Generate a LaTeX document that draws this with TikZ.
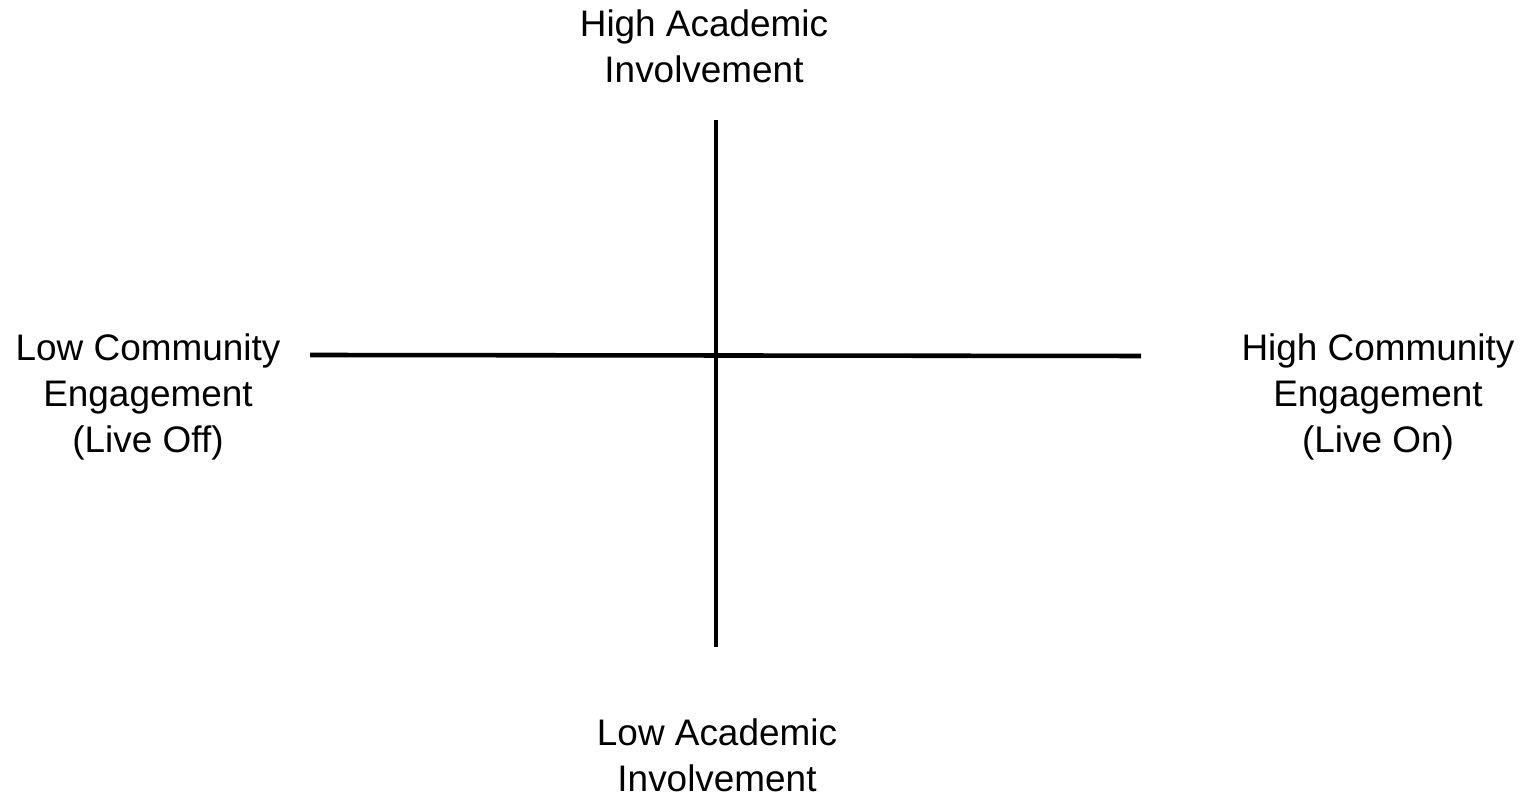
\documentclass[tikz,border=0pt]{standalone}
\usepackage{fontspec}
\setmainfont{Liberation Sans}
\usepackage{tikz}

\begin{document}
\begin{tikzpicture}[x=0.01cm,y=-0.01cm,
    axis/.style={line width=1.3pt},
    label/.style={align=center,inner sep=0pt,font=\fontsize{10.5pt}{13pt}\selectfont}]

%frame
\useasboundingbox (0,0) rectangle (1524,795);

%Axis ends
\coordinate (top) at (716,120);
\coordinate (bot) at (716,647);
\coordinate (left) at (310,355);
\coordinate (right) at (1141,356);

%Vertical axis
\draw[axis] (top) -- (bot);
%Horizontal axis
\draw[axis] (left) -- (right);

%Labels
\node[label] (hia) at (704,46) {High Academic\\Involvement};
\node[label] (lia) at (717,755) {Low Academic\\Involvement};
\node[label] (lce) at (148,397) {Low Community\\Engagement\\(Live Off)};
\node[label] (hce) at (1378,397) {High Community\\Engagement\\(Live On)};

\end{tikzpicture}
\end{document}
